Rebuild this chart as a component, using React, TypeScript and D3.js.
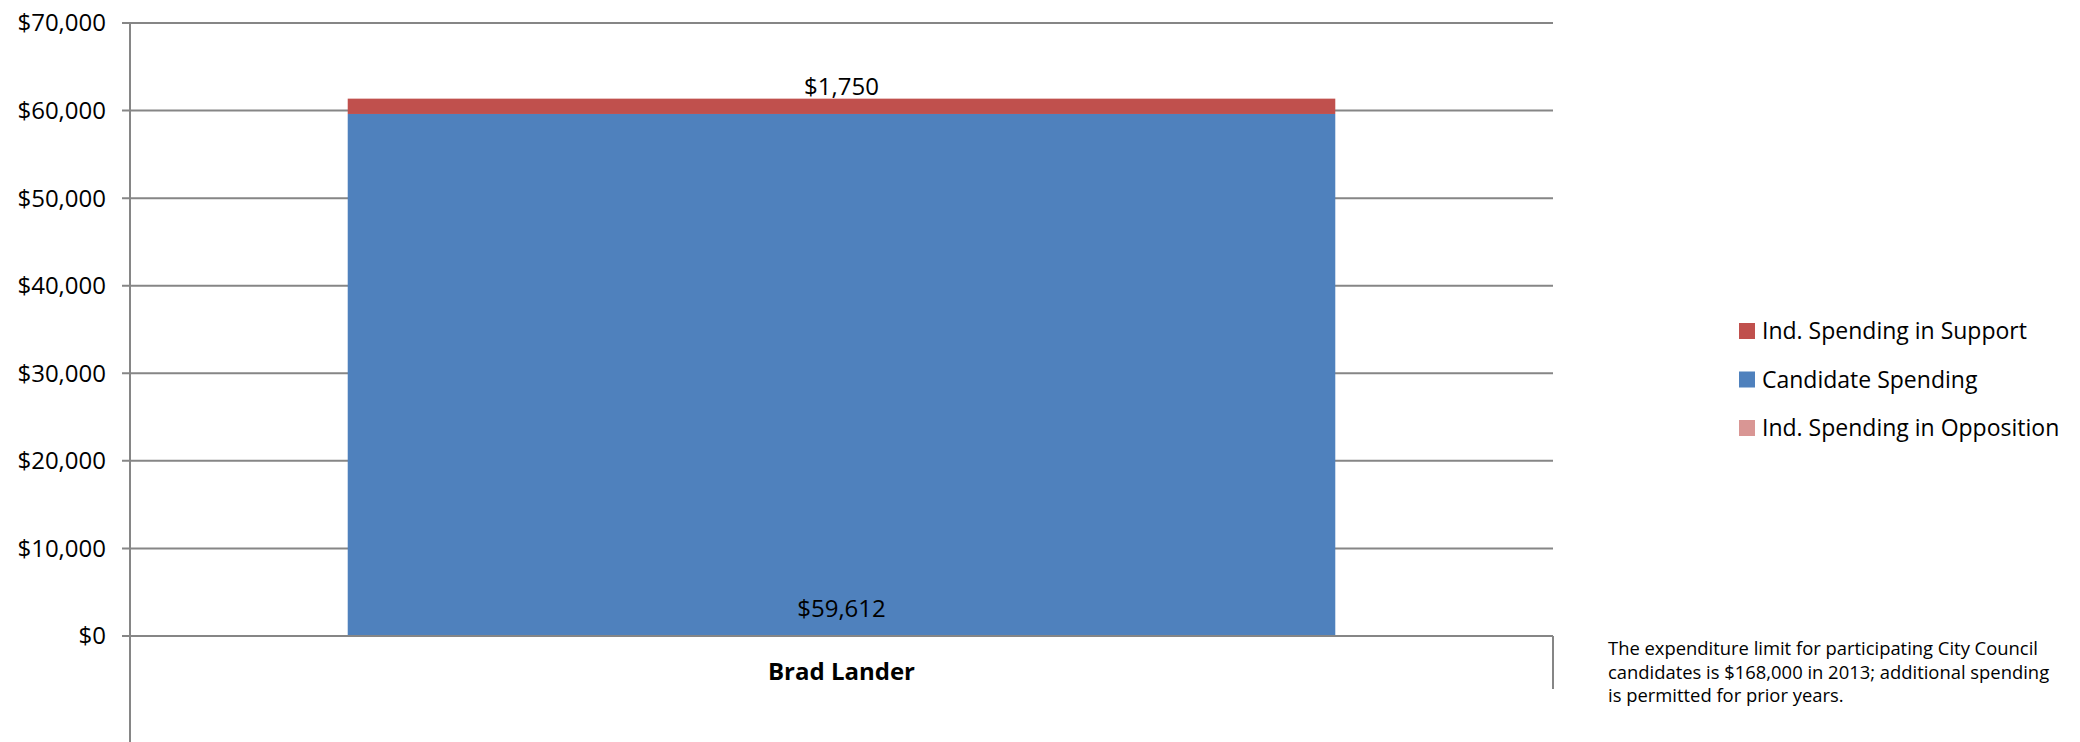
import React from "react";
import * as d3 from "d3";

const categories = ["Brad Lander"];
const candidateSpending = [59612];
const supportSpending = [1750];
const oppositionSpending = [0];
const yTicks = [0, 10000, 20000, 30000, 40000, 50000, 60000, 70000];
const legendItems = [
  { label: "Ind. Spending in Support", color: "#C0504D" },
  { label: "Candidate Spending", color: "#4F81BD" },
  { label: "Ind. Spending in Opposition", color: "#D99694" },
];
const footnote = [
  "The expenditure limit for participating City Council",
  "candidates is $168,000 in 2013; additional spending",
  "is permitted for prior years.",
];

const W = 2080;
const H = 742;
const FONT = "'Open Sans', sans-serif";

export default function App() {
  const left = 130;
  const right = 1553;
  const y = d3.scaleLinear().domain([0, 70000]).range([636, 23]);
  const x = d3.scaleBand().domain(categories).range([left, right]).paddingInner(0.306).paddingOuter(0.153);
  const fmt = (v: number) => "$" + d3.format(",")(v);
  const grid = "#868686";

  return (
    <div style={{ position: "absolute", left: 0, top: 0 }}>
      <svg width={W} height={H} style={{ display: "block", background: "#fff" }} fontFamily={FONT}>
        {yTicks.map((t) => (
          <g key={t}>
            <line x1={left - 8} x2={right} y1={y(t)} y2={y(t)} stroke={grid} strokeWidth={2} />
            <text x={106} y={y(t)} dy="0.35em" textAnchor="end" fontSize={24} fill="#000">
              {fmt(t)}
            </text>
          </g>
        ))}
        {categories.map((c, i) => {
          const bx = x(c)!;
          const bw = x.bandwidth();
          const cand = candidateSpending[i];
          const sup = supportSpending[i];
          const opp = oppositionSpending[i];
          const cx = bx + bw / 2;
          return (
            <g key={c}>
              <rect x={bx} y={y(cand)} width={bw} height={y(0) - y(cand)} fill="#4F81BD" />
              <rect x={bx} y={y(cand + sup)} width={bw} height={y(cand) - y(cand + sup)} fill="#C0504D" />
              {opp > 0 && (
                <rect x={bx} y={y(cand + sup + opp)} width={bw} height={y(cand + sup) - y(cand + sup + opp)} fill="#D99694" />
              )}
              <text x={cx} y={y(cand + sup) - 4} textAnchor="middle" fontSize={24} fill="#000">
                {fmt(sup)}
              </text>
              <text x={cx} y={y(0) - 19} textAnchor="middle" fontSize={24} fill="#000">
                {fmt(cand)}
              </text>
              <text x={cx} y={680} textAnchor="middle" fontSize={24} fontWeight="bold" fill="#000">
                {c}
              </text>
            </g>
          );
        })}
        {/* axes */}
        <line x1={left} x2={left} y1={y(70000)} y2={H} stroke={grid} strokeWidth={2} />
        <line x1={left - 8} x2={right} y1={y(0)} y2={y(0)} stroke={grid} strokeWidth={2} />
        <line x1={right} x2={right} y1={y(0)} y2={689} stroke={grid} strokeWidth={2} />
        {/* legend */}
        {legendItems.map((l, i) => (
          <g key={l.label} transform={`translate(1739, ${331 + i * 48.5})`}>
            <rect x={0} y={-8} width={16} height={16} fill={l.color} />
            <text x={23} y={0} dy="0.35em" fontSize={23} fill="#000">
              {l.label}
            </text>
          </g>
        ))}
        {footnote.map((line, i) => (
          <text key={i} x={1608} y={655 + i * 23.5} fontSize={18.4} fill="#000">
            {line}
          </text>
        ))}
      </svg>
    </div>
  );
}
